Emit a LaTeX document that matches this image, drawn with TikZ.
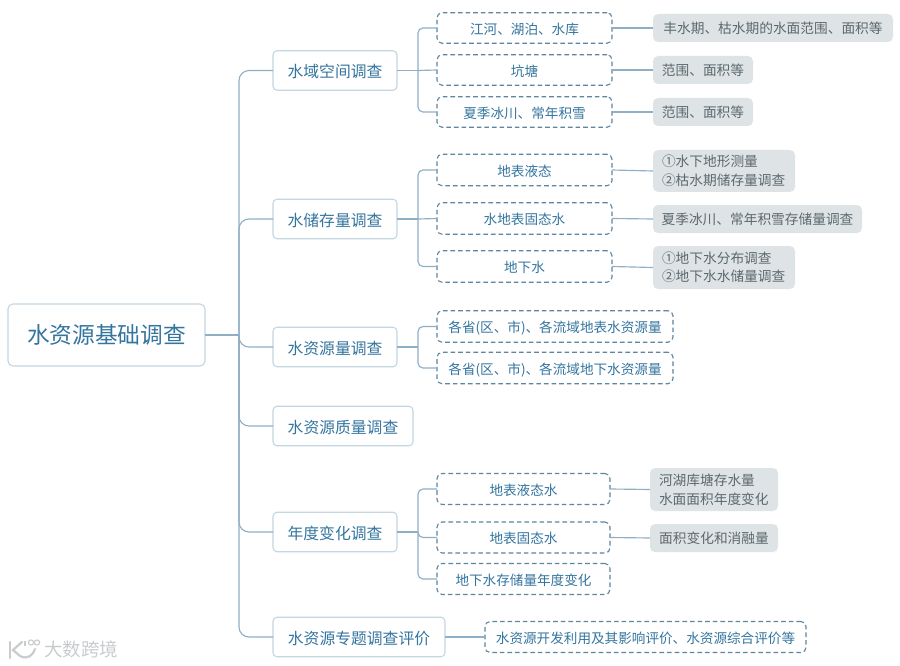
\documentclass[tikz,border=0pt]{standalone}
\usepackage{fontspec}
\setmainfont{Noto Sans CJK SC}
\definecolor{linec}{HTML}{8FAFC6}
\definecolor{rootb}{HTML}{C3D6E2}
\definecolor{dashc}{HTML}{5F859F}
\definecolor{bluet}{HTML}{34759F}
\definecolor{greyf}{HTML}{DEE4E6}
\definecolor{greyt}{HTML}{5C686E}
\definecolor{wm}{HTML}{C9CCCE}
\tikzset{
  box/.style={rectangle,inner sep=0pt,outer sep=0pt,text=bluet,align=center},
  rootbox/.style={box,draw=rootb,line width=1.1pt,rounded corners=5pt,font=\fontsize{22.7}{26}\selectfont},
  mainbox/.style={box,draw=rootb,line width=1.1pt,rounded corners=4pt,minimum height=39.5pt,text height=16pt,text depth=2pt,font=\fontsize{15.8}{19}\selectfont},
  dashbox/.style={box,draw=dashc,line width=1.1pt,dash pattern=on 4.6pt off 3pt,rounded corners=5pt,text height=14pt,text depth=1.6pt,font=\fontsize{13.6}{17}\selectfont},
  greybox/.style={box,fill=greyf,text=greyt,rounded corners=5pt,font=\fontsize{13.7}{19.5}\selectfont},
  greyleft/.style={greybox,align=left},
  conn/.style={draw=linec,line width=1.15pt},
  trunk/.style={conn,rounded corners=10pt},
  sub/.style={conn,rounded corners=5pt},
  wmtext/.style={text=wm,inner sep=0pt,font=\fontsize{18.5}{20}\selectfont}
}
\begin{document}
\begin{tikzpicture}[x=1pt,y=-1pt]
\useasboundingbox[fill=white] (0,0) rectangle (900,666);

% root
\node[rootbox,minimum width=197pt,minimum height=62pt] (root) at (106.5,335) {水资源基础调查};
% level 2
\node[mainbox,minimum width=124pt] (a) at (335,70.5) {水域空间调查};
\node[mainbox,minimum width=124pt] (b) at (335,219) {水储存量调查};
\node[mainbox,minimum width=124pt] (c) at (335,347) {水资源量调查};
\node[mainbox,minimum width=140pt] (d) at (343,426) {水资源质量调查};
\node[mainbox,minimum width=124pt] (e) at (335,532) {年度变化调查};
\node[mainbox,minimum width=172pt] (f) at (359,637) {水资源专题调查评价};
% level 3
\node[dashbox,minimum width=175pt,minimum height=30.5pt] (a1) at (524.5,28) {江河、湖泊、水库};
\node[dashbox,minimum width=175pt,minimum height=30.5pt] (a2) at (524.5,70) {坑塘};
\node[dashbox,minimum width=175pt,minimum height=30.5pt] (a3) at (524.5,112) {夏季冰川、常年积雪};
\node[dashbox,minimum width=175pt,minimum height=31.5pt] (b1) at (524.5,170) {地表液态};
\node[dashbox,minimum width=175pt,minimum height=31.5pt] (b2) at (524.5,218.5) {水地表固态水};
\node[dashbox,minimum width=175pt,minimum height=31.5pt] (b3) at (524.5,266.5) {地下水};
\node[dashbox,minimum width=236pt,minimum height=31.5pt] (c1) at (555,326.5) {各省(区、市)、各流域地表水资源量};
\node[dashbox,minimum width=236pt,minimum height=31.5pt] (c2) at (555,368) {各省(区、市)、各流域地下水资源量};
\node[dashbox,minimum width=173pt,minimum height=31pt] (e1) at (523.5,489) {地表液态水};
\node[dashbox,minimum width=173pt,minimum height=31pt] (e2) at (523.5,537.5) {地表固态水};
\node[dashbox,minimum width=173pt,minimum height=31pt] (e3) at (523.5,579) {地下水存储量年度变化};
\node[dashbox,minimum width=321pt,minimum height=31pt] (f1) at (645.5,637) {水资源开发利用及其影响评价、水资源综合评价等};
% level 4
\node[greybox,minimum width=240pt,minimum height=28pt] (g1) at (773,28) {丰水期、枯水期的水面范围、面积等};
\node[greybox,minimum width=100pt,minimum height=28pt] (g2) at (703,70) {范围、面积等};
\node[greybox,minimum width=100pt,minimum height=28pt] (g3) at (703,112) {范围、面积等};
\node[greyleft,minimum width=142pt,minimum height=42pt,text width=124pt] (g4) at (724,171) {①水下地形测量\\[-1pt]②枯水期储存量调查};
\node[greybox,minimum width=209pt,minimum height=28pt] (g5) at (757.5,219) {夏季冰川、常年积雪存储量调查};
\node[greyleft,minimum width=142pt,minimum height=43pt,text width=124pt] (g6) at (724,267.5) {①地下水分布调查\\[-1pt]②地下水水储量调查};
\node[greyleft,minimum width=128pt,minimum height=43pt,text width=110pt] (g7) at (714,489.5) {河湖库塘存水量\\[-1pt]水面面积年度变化};
\node[greybox,minimum width=128pt,minimum height=28pt] (g8) at (714,538) {面积变化和消融量};

% junctions
\coordinate (tr) at (239,335);
\coordinate (ja) at (418,70.5);
\coordinate (jb) at (418,219);
\coordinate (jc) at (418,347);
\coordinate (je) at (418,532);

% trunk
\draw[conn] (root.east) -- (tr);
\foreach \n in {a,b,c,d,e,f}{\draw[trunk] (tr) |- (\n.west);}

% level 2 to level 3
\draw[conn] (a.east) -- (ja);
\draw[sub] (ja) |- (a1.west);
\draw[conn] (ja) -- (a2.west);
\draw[sub] (ja) |- (a3.west);
\draw[conn] (b.east) -- (jb);
\draw[sub] (jb) |- (b1.west);
\draw[conn] (jb) -- (b2.west);
\draw[sub] (jb) |- (b3.west);
\draw[conn] (c.east) -- (jc);
\draw[sub] (jc) |- (c1.west);
\draw[sub] (jc) |- (c2.west);
\draw[conn] (e.east) -- (je);
\draw[sub] (je) |- (e1.west);
\draw[sub] (je) |- (e2.west);
\draw[sub] (je) |- (e3.west);
\draw[conn] (f.east) -- (f1.west);

% level 3 to level 4
\draw[conn] (a1.east) -- (g1.west);
\draw[conn] (a2.east) -- (g2.west);
\draw[conn] (a3.east) -- (g3.west);
\draw[conn] (b1.east) -- (g4.west);
\draw[conn] (b2.east) -- (g5.west);
\draw[conn] (b3.east) -- (g6.west);
\draw[conn] (e1.east) -- (g7.west);
\draw[conn] (e2.east) -- (g8.west);

% watermark
\node[wmtext,anchor=west] (wmt) at (44,649.5) {大数跨境};
\draw[wm,line width=2.2pt,line cap=round] (10,642) -- (10,658);
\draw[wm,line width=2.2pt,line cap=round] (22,642) -- (13,650) -- (20,656) .. controls (28,660) and (33,655) .. (35,649);
\draw[wm,line width=1.1pt] (25,641) -- (25,646);
\draw[wm,line width=1.1pt] (31,642.5) circle (2.6pt);
\draw[wm,line width=1.1pt] (37,642.5) circle (2.6pt);
\end{tikzpicture}
\end{document}
